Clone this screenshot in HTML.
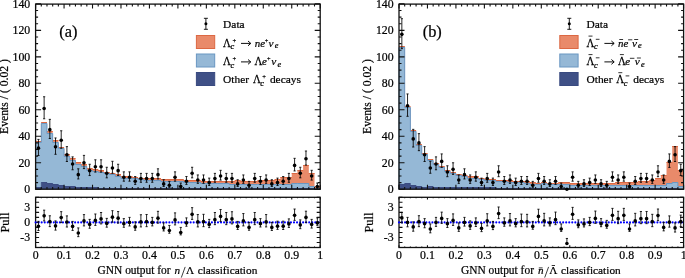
<!DOCTYPE html>
<html><head><meta charset="utf-8"><style>
html,body{margin:0;padding:0;background:#fff;overflow:hidden;}
svg{display:block;will-change:transform;}
text{font-family:"Liberation Serif",serif;fill:#000;stroke:#000;stroke-width:0.22px;}
</style></head><body>
<svg width="685" height="278" viewBox="0 0 685 278">
<polygon points="35.6,189.2 35.6,141 41.29,141 41.29,122 46.98,122 46.98,131 52.68,131 52.68,140 58.37,140 58.37,147 64.06,147 64.06,154 69.75,154 69.75,158 75.44,158 75.44,162 81.14,162 81.14,164 86.83,164 86.83,168 92.52,168 92.52,169 98.21,169 98.21,170 103.9,170 103.9,172 109.6,172 109.6,173 115.29,173 115.29,174 120.98,174 120.98,176 126.67,176 126.67,176 132.36,176 132.36,177 138.06,177 138.06,178 143.75,178 143.75,178 149.44,178 149.44,178 155.13,178 155.13,178 160.82,178 160.82,179 166.52,179 166.52,179 172.21,179 172.21,179 177.9,179 177.9,179 183.59,179 183.59,180 189.28,180 189.28,180 194.98,180 194.98,180 200.67,180 200.67,181 206.36,181 206.36,181 212.05,181 212.05,181 217.74,181 217.74,181 223.44,181 223.44,181 229.13,181 229.13,181 234.82,181 234.82,180 240.51,180 240.51,181 246.2,181 246.2,181 251.9,181 251.9,181 257.59,181 257.59,180 263.28,180 263.28,180 268.97,180 268.97,180 274.66,180 274.66,179 280.36,179 280.36,177 286.05,177 286.05,177 291.74,177 291.74,173 297.43,173 297.43,170 303.12,170 303.12,165 308.82,165 308.82,173 314.51,173 314.51,186 320.2,186 320.2,189.2" fill="#E98A6A"/>
<path d="M35.6,141.5H41.29M41.29,122.5H46.98M46.98,131.5H52.68M52.68,140.5H58.37M58.37,147.5H64.06M64.06,154.5H69.75M69.75,158.5H75.44M75.44,162.5H81.14M81.14,164.5H86.83M86.83,168.5H92.52M92.52,169.5H98.21M98.21,170.5H103.9M103.9,172.5H109.6M109.6,173.5H115.29M115.29,174.5H120.98M120.98,176.5H126.67M126.67,176.5H132.36M132.36,177.5H138.06M138.06,178.5H143.75M143.75,178.5H149.44M149.44,178.5H155.13M155.13,178.5H160.82M160.82,179.5H166.52M166.52,179.5H172.21M172.21,179.5H177.9M177.9,179.5H183.59M183.59,180.5H189.28M189.28,180.5H194.98M194.98,180.5H200.67M200.67,181.5H206.36M206.36,181.5H212.05M212.05,181.5H217.74M217.74,181.5H223.44M223.44,181.5H229.13M229.13,181.5H234.82M234.82,180.5H240.51M240.51,181.5H246.2M246.2,181.5H251.9M251.9,181.5H257.59M257.59,180.5H263.28M263.28,180.5H268.97M268.97,180.5H274.66M274.66,179.5H280.36M280.36,177.5H286.05M286.05,177.5H291.74M291.74,173.5H297.43M297.43,170.5H303.12M303.12,165.5H308.82M308.82,173.5H314.51M314.51,186.5H320.2" fill="none" stroke="#DC6843" stroke-width="1"/>
<polygon points="35.6,189.2 35.6,142 41.29,142 41.29,123 46.98,123 46.98,133 52.68,133 52.68,142 58.37,142 58.37,148 64.06,148 64.06,156 69.75,156 69.75,160 75.44,160 75.44,164 81.14,164 81.14,166 86.83,166 86.83,170 92.52,170 92.52,171 98.21,171 98.21,172 103.9,172 103.9,173 109.6,173 109.6,174 115.29,174 115.29,176 120.98,176 120.98,178 126.67,178 126.67,178 132.36,178 132.36,178 138.06,178 138.06,179 143.75,179 143.75,180 149.44,180 149.44,180 155.13,180 155.13,180 160.82,180 160.82,181 166.52,181 166.52,181 172.21,181 172.21,181 177.9,181 177.9,181 183.59,181 183.59,182 189.28,182 189.28,182 194.98,182 194.98,182 200.67,182 200.67,183 206.36,183 206.36,183 212.05,183 212.05,183 217.74,183 217.74,183 223.44,183 223.44,183 229.13,183 229.13,184 234.82,184 234.82,184 240.51,184 240.51,184 246.2,184 246.2,184 251.9,184 251.9,184 257.59,184 257.59,184 263.28,184 263.28,184 268.97,184 268.97,184 274.66,184 274.66,184 280.36,184 280.36,184 286.05,184 286.05,184 291.74,184 291.74,183 297.43,183 297.43,183 303.12,183 303.12,183 308.82,183 308.82,186 314.51,186 314.51,188 320.2,188 320.2,189.2" fill="#95B8D6"/>
<path d="M35.6,189.2 L35.6,142.5 L41.29,142.5 L41.29,123.5 L46.98,123.5 L46.98,133.5 L52.68,133.5 L52.68,142.5 L58.37,142.5 L58.37,148.5 L64.06,148.5 L64.06,156.5 L69.75,156.5 L69.75,160.5 L75.44,160.5 L75.44,164.5 L81.14,164.5 L81.14,166.5 L86.83,166.5 L86.83,170.5 L92.52,170.5 L92.52,171.5 L98.21,171.5 L98.21,172.5 L103.9,172.5 L103.9,173.5 L109.6,173.5 L109.6,174.5 L115.29,174.5 L115.29,176.5 L120.98,176.5 L120.98,178.5 L126.67,178.5 L126.67,178.5 L132.36,178.5 L132.36,178.5 L138.06,178.5 L138.06,179.5 L143.75,179.5 L143.75,180.5 L149.44,180.5 L149.44,180.5 L155.13,180.5 L155.13,180.5 L160.82,180.5 L160.82,181.5 L166.52,181.5 L166.52,181.5 L172.21,181.5 L172.21,181.5 L177.9,181.5 L177.9,181.5 L183.59,181.5 L183.59,182.5 L189.28,182.5 L189.28,182.5 L194.98,182.5 L194.98,182.5 L200.67,182.5 L200.67,183.5 L206.36,183.5 L206.36,183.5 L212.05,183.5 L212.05,183.5 L217.74,183.5 L217.74,183.5 L223.44,183.5 L223.44,183.5 L229.13,183.5 L229.13,184.5 L234.82,184.5 L234.82,184.5 L240.51,184.5 L240.51,184.5 L246.2,184.5 L246.2,184.5 L251.9,184.5 L251.9,184.5 L257.59,184.5 L257.59,184.5 L263.28,184.5 L263.28,184.5 L268.97,184.5 L268.97,184.5 L274.66,184.5 L274.66,184.5 L280.36,184.5 L280.36,184.5 L286.05,184.5 L286.05,184.5 L291.74,184.5 L291.74,183.5 L297.43,183.5 L297.43,183.5 L303.12,183.5 L303.12,183.5 L308.82,183.5 L308.82,186.5 L314.51,186.5 L314.51,188.5 L320.2,188.5 L320.2,189.2" fill="none" stroke="#6A97C2" stroke-width="1"/>
<polygon points="35.6,189.2 35.6,187 41.29,187 41.29,182 46.98,182 46.98,183 52.68,183 52.68,184 58.37,184 58.37,185 64.06,185 64.06,186 69.75,186 69.75,186 75.44,186 75.44,187 81.14,187 81.14,187 86.83,187 86.83,187 92.52,187 92.52,187 98.21,187 98.21,188 103.9,188 103.9,188 109.6,188 109.6,188 115.29,188 115.29,188 120.98,188 120.98,188 126.67,188 126.67,188 132.36,188 132.36,188 138.06,188 138.06,188 143.75,188 143.75,188 149.44,188 149.44,188 155.13,188 155.13,188 160.82,188 160.82,188 166.52,188 166.52,188 172.21,188 172.21,188 177.9,188 177.9,188 183.59,188 183.59,188 189.28,188 189.28,188 194.98,188 194.98,188 200.67,188 200.67,188 206.36,188 206.36,188 212.05,188 212.05,188 217.74,188 217.74,188 223.44,188 223.44,188 229.13,188 229.13,188 234.82,188 234.82,188 240.51,188 240.51,188 246.2,188 246.2,188 251.9,188 251.9,188 257.59,188 257.59,188 263.28,188 263.28,188 268.97,188 268.97,188 274.66,188 274.66,188 280.36,188 280.36,188 286.05,188 286.05,188 291.74,188 291.74,188 297.43,188 297.43,188 303.12,188 303.12,188 308.82,188 308.82,188 314.51,188 314.51,189 320.2,189 320.2,189.2" fill="#3F5086"/>
<path d="M35.6,189.2 L35.6,187.5 L41.29,187.5 L41.29,182.5 L46.98,182.5 L46.98,183.5 L52.68,183.5 L52.68,184.5 L58.37,184.5 L58.37,185.5 L64.06,185.5 L64.06,186.5 L69.75,186.5 L69.75,186.5 L75.44,186.5 L75.44,187.5 L81.14,187.5 L81.14,187.5 L86.83,187.5 L86.83,187.5 L92.52,187.5 L92.52,187.5 L98.21,187.5 L98.21,188.5 L103.9,188.5 L103.9,188.5 L109.6,188.5 L109.6,188.5 L115.29,188.5 L115.29,188.5 L120.98,188.5 L120.98,188.5 L126.67,188.5 L126.67,188.5 L132.36,188.5 L132.36,188.5 L138.06,188.5 L138.06,188.5 L143.75,188.5 L143.75,188.5 L149.44,188.5 L149.44,188.5 L155.13,188.5 L155.13,188.5 L160.82,188.5 L160.82,188.5 L166.52,188.5 L166.52,188.5 L172.21,188.5 L172.21,188.5 L177.9,188.5 L177.9,188.5 L183.59,188.5 L183.59,188.5 L189.28,188.5 L189.28,188.5 L194.98,188.5 L194.98,188.5 L200.67,188.5 L200.67,188.5 L206.36,188.5 L206.36,188.5 L212.05,188.5 L212.05,188.5 L217.74,188.5 L217.74,188.5 L223.44,188.5 L223.44,188.5 L229.13,188.5 L229.13,188.5 L234.82,188.5 L234.82,188.5 L240.51,188.5 L240.51,188.5 L246.2,188.5 L246.2,188.5 L251.9,188.5 L251.9,188.5 L257.59,188.5 L257.59,188.5 L263.28,188.5 L263.28,188.5 L268.97,188.5 L268.97,188.5 L274.66,188.5 L274.66,188.5 L280.36,188.5 L280.36,188.5 L286.05,188.5 L286.05,188.5 L291.74,188.5 L291.74,188.5 L297.43,188.5 L297.43,188.5 L303.12,188.5 L303.12,188.5 L308.82,188.5 L308.82,188.5 L314.51,188.5 L314.51,189.5 L320.2,189.5 L320.2,189.2" fill="none" stroke="#394A80" stroke-width="0.6"/>
<rect x="35.6" y="4.1" width="284.6" height="185.1" fill="none" stroke="#111" stroke-width="1.3"/>
<rect x="35.6" y="197.3" width="284.6" height="50.2" fill="none" stroke="#111" stroke-width="1.3"/>
<path d="M35.6,4.1v4.5M35.6,189.2v-4.5M35.6,197.3v2.2M35.6,247.5v-2.2M41.29,4.1v2.3M41.29,189.2v-2.3M41.29,197.3v1M41.29,247.5v-1M46.98,4.1v2.3M46.98,189.2v-2.3M46.98,197.3v1M46.98,247.5v-1M52.68,4.1v2.3M52.68,189.2v-2.3M52.68,197.3v1M52.68,247.5v-1M58.37,4.1v2.3M58.37,189.2v-2.3M58.37,197.3v1M58.37,247.5v-1M64.06,4.1v4.5M64.06,189.2v-4.5M64.06,197.3v2.2M64.06,247.5v-2.2M69.75,4.1v2.3M69.75,189.2v-2.3M69.75,197.3v1M69.75,247.5v-1M75.44,4.1v2.3M75.44,189.2v-2.3M75.44,197.3v1M75.44,247.5v-1M81.14,4.1v2.3M81.14,189.2v-2.3M81.14,197.3v1M81.14,247.5v-1M86.83,4.1v2.3M86.83,189.2v-2.3M86.83,197.3v1M86.83,247.5v-1M92.52,4.1v4.5M92.52,189.2v-4.5M92.52,197.3v2.2M92.52,247.5v-2.2M98.21,4.1v2.3M98.21,189.2v-2.3M98.21,197.3v1M98.21,247.5v-1M103.9,4.1v2.3M103.9,189.2v-2.3M103.9,197.3v1M103.9,247.5v-1M109.6,4.1v2.3M109.6,189.2v-2.3M109.6,197.3v1M109.6,247.5v-1M115.29,4.1v2.3M115.29,189.2v-2.3M115.29,197.3v1M115.29,247.5v-1M120.98,4.1v4.5M120.98,189.2v-4.5M120.98,197.3v2.2M120.98,247.5v-2.2M126.67,4.1v2.3M126.67,189.2v-2.3M126.67,197.3v1M126.67,247.5v-1M132.36,4.1v2.3M132.36,189.2v-2.3M132.36,197.3v1M132.36,247.5v-1M138.06,4.1v2.3M138.06,189.2v-2.3M138.06,197.3v1M138.06,247.5v-1M143.75,4.1v2.3M143.75,189.2v-2.3M143.75,197.3v1M143.75,247.5v-1M149.44,4.1v4.5M149.44,189.2v-4.5M149.44,197.3v2.2M149.44,247.5v-2.2M155.13,4.1v2.3M155.13,189.2v-2.3M155.13,197.3v1M155.13,247.5v-1M160.82,4.1v2.3M160.82,189.2v-2.3M160.82,197.3v1M160.82,247.5v-1M166.52,4.1v2.3M166.52,189.2v-2.3M166.52,197.3v1M166.52,247.5v-1M172.21,4.1v2.3M172.21,189.2v-2.3M172.21,197.3v1M172.21,247.5v-1M177.9,4.1v4.5M177.9,189.2v-4.5M177.9,197.3v2.2M177.9,247.5v-2.2M183.59,4.1v2.3M183.59,189.2v-2.3M183.59,197.3v1M183.59,247.5v-1M189.28,4.1v2.3M189.28,189.2v-2.3M189.28,197.3v1M189.28,247.5v-1M194.98,4.1v2.3M194.98,189.2v-2.3M194.98,197.3v1M194.98,247.5v-1M200.67,4.1v2.3M200.67,189.2v-2.3M200.67,197.3v1M200.67,247.5v-1M206.36,4.1v4.5M206.36,189.2v-4.5M206.36,197.3v2.2M206.36,247.5v-2.2M212.05,4.1v2.3M212.05,189.2v-2.3M212.05,197.3v1M212.05,247.5v-1M217.74,4.1v2.3M217.74,189.2v-2.3M217.74,197.3v1M217.74,247.5v-1M223.44,4.1v2.3M223.44,189.2v-2.3M223.44,197.3v1M223.44,247.5v-1M229.13,4.1v2.3M229.13,189.2v-2.3M229.13,197.3v1M229.13,247.5v-1M234.82,4.1v4.5M234.82,189.2v-4.5M234.82,197.3v2.2M234.82,247.5v-2.2M240.51,4.1v2.3M240.51,189.2v-2.3M240.51,197.3v1M240.51,247.5v-1M246.2,4.1v2.3M246.2,189.2v-2.3M246.2,197.3v1M246.2,247.5v-1M251.9,4.1v2.3M251.9,189.2v-2.3M251.9,197.3v1M251.9,247.5v-1M257.59,4.1v2.3M257.59,189.2v-2.3M257.59,197.3v1M257.59,247.5v-1M263.28,4.1v4.5M263.28,189.2v-4.5M263.28,197.3v2.2M263.28,247.5v-2.2M268.97,4.1v2.3M268.97,189.2v-2.3M268.97,197.3v1M268.97,247.5v-1M274.66,4.1v2.3M274.66,189.2v-2.3M274.66,197.3v1M274.66,247.5v-1M280.36,4.1v2.3M280.36,189.2v-2.3M280.36,197.3v1M280.36,247.5v-1M286.05,4.1v2.3M286.05,189.2v-2.3M286.05,197.3v1M286.05,247.5v-1M291.74,4.1v4.5M291.74,189.2v-4.5M291.74,197.3v2.2M291.74,247.5v-2.2M297.43,4.1v2.3M297.43,189.2v-2.3M297.43,197.3v1M297.43,247.5v-1M303.12,4.1v2.3M303.12,189.2v-2.3M303.12,197.3v1M303.12,247.5v-1M308.82,4.1v2.3M308.82,189.2v-2.3M308.82,197.3v1M308.82,247.5v-1M314.51,4.1v2.3M314.51,189.2v-2.3M314.51,197.3v1M314.51,247.5v-1M320.2,4.1v4.5M320.2,189.2v-4.5M320.2,197.3v2.2M320.2,247.5v-2.2M35.6,189.2h5.5M320.2,189.2h-5.5M35.6,182.58h2.5M320.2,182.58h-2.5M35.6,175.96h2.5M320.2,175.96h-2.5M35.6,169.35h2.5M320.2,169.35h-2.5M35.6,162.73h5.5M320.2,162.73h-5.5M35.6,156.11h2.5M320.2,156.11h-2.5M35.6,149.5h2.5M320.2,149.5h-2.5M35.6,142.88h2.5M320.2,142.88h-2.5M35.6,136.26h5.5M320.2,136.26h-5.5M35.6,129.64h2.5M320.2,129.64h-2.5M35.6,123.02h2.5M320.2,123.02h-2.5M35.6,116.41h2.5M320.2,116.41h-2.5M35.6,109.79h5.5M320.2,109.79h-5.5M35.6,103.17h2.5M320.2,103.17h-2.5M35.6,96.55h2.5M320.2,96.55h-2.5M35.6,89.94h2.5M320.2,89.94h-2.5M35.6,83.32h5.5M320.2,83.32h-5.5M35.6,76.7h2.5M320.2,76.7h-2.5M35.6,70.08h2.5M320.2,70.08h-2.5M35.6,63.47h2.5M320.2,63.47h-2.5M35.6,56.85h5.5M320.2,56.85h-5.5M35.6,50.23h2.5M320.2,50.23h-2.5M35.6,43.62h2.5M320.2,43.62h-2.5M35.6,37h2.5M320.2,37h-2.5M35.6,30.38h5.5M320.2,30.38h-5.5M35.6,23.76h2.5M320.2,23.76h-2.5M35.6,17.15h2.5M320.2,17.15h-2.5M35.6,10.53h2.5M320.2,10.53h-2.5M35.6,3.91h5.5M320.2,3.91h-5.5M35.6,247.5h3.5M320.2,247.5h-3.5M35.6,242.48h3.5M320.2,242.48h-3.5M35.6,237.46h3.5M320.2,237.46h-3.5M35.6,232.44h3.5M320.2,232.44h-3.5M35.6,227.42h3.5M320.2,227.42h-3.5M35.6,222.4h3.5M320.2,222.4h-3.5M35.6,217.38h3.5M320.2,217.38h-3.5M35.6,212.36h3.5M320.2,212.36h-3.5M35.6,207.34h3.5M320.2,207.34h-3.5M35.6,202.32h3.5M320.2,202.32h-3.5M35.6,197.3h3.5M320.2,197.3h-3.5" stroke="#111" stroke-width="1.1" fill="none"/>
<circle cx="38.45" cy="148.17" r="1.8"/>
<circle cx="44.14" cy="108.47" r="1.8"/>
<circle cx="49.83" cy="129.64" r="1.8"/>
<circle cx="55.52" cy="146.85" r="1.8"/>
<circle cx="61.21" cy="140.23" r="1.8"/>
<circle cx="66.91" cy="154.79" r="1.8"/>
<circle cx="72.6" cy="164.05" r="1.8"/>
<circle cx="78.29" cy="174.64" r="1.8"/>
<circle cx="83.98" cy="162.73" r="1.8"/>
<circle cx="89.67" cy="170.67" r="1.8"/>
<circle cx="95.37" cy="166.7" r="1.8"/>
<circle cx="101.06" cy="166.7" r="1.8"/>
<circle cx="106.75" cy="173.32" r="1.8"/>
<circle cx="112.44" cy="168.02" r="1.8"/>
<circle cx="118.13" cy="170.67" r="1.8"/>
<circle cx="123.83" cy="177.29" r="1.8"/>
<circle cx="129.52" cy="177.29" r="1.8"/>
<circle cx="135.21" cy="181.26" r="1.8"/>
<circle cx="140.9" cy="178.61" r="1.8"/>
<circle cx="146.59" cy="178.61" r="1.8"/>
<circle cx="152.29" cy="178.61" r="1.8"/>
<circle cx="157.98" cy="174.64" r="1.8"/>
<circle cx="163.67" cy="183.91" r="1.8"/>
<circle cx="169.36" cy="185.23" r="1.8"/>
<circle cx="175.05" cy="177.29" r="1.8"/>
<circle cx="180.75" cy="186.55" r="1.8"/>
<circle cx="186.44" cy="181.26" r="1.8"/>
<circle cx="192.13" cy="173.32" r="1.8"/>
<circle cx="197.82" cy="179.94" r="1.8"/>
<circle cx="203.51" cy="179.94" r="1.8"/>
<circle cx="209.21" cy="182.58" r="1.8"/>
<circle cx="214.9" cy="178.61" r="1.8"/>
<circle cx="220.59" cy="175.96" r="1.8"/>
<circle cx="226.28" cy="178.61" r="1.8"/>
<circle cx="231.97" cy="178.61" r="1.8"/>
<circle cx="237.67" cy="183.91" r="1.8"/>
<circle cx="243.36" cy="179.94" r="1.8"/>
<circle cx="249.05" cy="185.23" r="1.8"/>
<circle cx="254.74" cy="178.61" r="1.8"/>
<circle cx="260.43" cy="181.26" r="1.8"/>
<circle cx="266.13" cy="179.94" r="1.8"/>
<circle cx="271.82" cy="183.91" r="1.8"/>
<circle cx="277.51" cy="182.58" r="1.8"/>
<circle cx="283.2" cy="181.26" r="1.8"/>
<circle cx="288.89" cy="178.61" r="1.8"/>
<circle cx="294.59" cy="165.38" r="1.8"/>
<circle cx="300.28" cy="173.32" r="1.8"/>
<circle cx="305.97" cy="158.76" r="1.8"/>
<circle cx="311.66" cy="175.96" r="1.8"/>
<circle cx="317.35" cy="186.55" r="1.8"/>
<path d="M38.45,139.4V155.5M37.35,139.4h2.2M37.35,155.5h2.2M44.14,96.75V118.77M43.04,96.75h2.2M43.04,118.77h2.2M49.83,119.37V138.49M48.73,119.37h2.2M48.73,138.49h2.2M55.52,137.96V154.3M54.42,137.96h2.2M54.42,154.3h2.2M61.21,130.78V148.24M60.11,130.78h2.2M60.11,148.24h2.2M66.91,146.63V161.49M65.81,146.63h2.2M65.81,161.49h2.2M72.6,156.86V169.77M71.5,156.86h2.2M71.5,169.77h2.2M78.29,168.8V178.96M77.19,168.8h2.2M77.19,178.96h2.2M83.98,155.39V168.6M82.88,155.39h2.2M82.88,168.6h2.2M89.67,164.28V175.56M88.57,164.28h2.2M88.57,175.56h2.2M95.37,159.81V172.1M94.27,159.81h2.2M94.27,172.1h2.2M101.06,159.81V172.1M99.96,159.81h2.2M99.96,172.1h2.2M106.75,167.28V177.84M105.65,167.28h2.2M105.65,177.84h2.2M112.44,161.3V173.26M111.34,161.3h2.2M111.34,173.26h2.2M118.13,164.28V175.56M117.03,164.28h2.2M117.03,175.56h2.2M123.83,171.85V181.18M122.73,171.85h2.2M122.73,181.18h2.2M129.52,171.85V181.18M128.42,171.85h2.2M128.42,181.18h2.2M135.21,176.52V184.41M134.11,176.52h2.2M134.11,184.41h2.2M140.9,173.39V182.28M139.8,173.39h2.2M139.8,182.28h2.2M146.59,173.39V182.28M145.49,173.39h2.2M145.49,182.28h2.2M152.29,173.39V182.28M151.19,173.39h2.2M151.19,182.28h2.2M157.98,168.8V178.96M156.88,168.8h2.2M156.88,178.96h2.2M163.67,179.72V186.44M162.57,179.72h2.2M162.57,186.44h2.2M169.36,181.37V187.39M168.26,181.37h2.2M168.26,187.39h2.2M175.05,171.85V181.18M173.95,171.85h2.2M173.95,181.18h2.2M180.75,183.06V188.26M179.65,183.06h2.2M179.65,188.26h2.2M186.44,176.52V184.41M185.34,176.52h2.2M185.34,184.41h2.2M192.13,167.28V177.84M191.03,167.28h2.2M191.03,177.84h2.2M197.82,174.95V183.35M196.72,174.95h2.2M196.72,183.35h2.2M203.51,174.95V183.35M202.41,174.95h2.2M202.41,183.35h2.2M209.21,178.11V185.44M208.11,178.11h2.2M208.11,185.44h2.2M214.9,173.39V182.28M213.8,173.39h2.2M213.8,182.28h2.2M220.59,170.32V180.08M219.49,170.32h2.2M219.49,180.08h2.2M226.28,173.39V182.28M225.18,173.39h2.2M225.18,182.28h2.2M231.97,173.39V182.28M230.87,173.39h2.2M230.87,182.28h2.2M237.67,179.72V186.44M236.57,179.72h2.2M236.57,186.44h2.2M243.36,174.95V183.35M242.26,174.95h2.2M242.26,183.35h2.2M249.05,181.37V187.39M247.95,181.37h2.2M247.95,187.39h2.2M254.74,173.39V182.28M253.64,173.39h2.2M253.64,182.28h2.2M260.43,176.52V184.41M259.33,176.52h2.2M259.33,184.41h2.2M266.13,174.95V183.35M265.03,174.95h2.2M265.03,183.35h2.2M271.82,179.72V186.44M270.72,179.72h2.2M270.72,186.44h2.2M277.51,178.11V185.44M276.41,178.11h2.2M276.41,185.44h2.2M283.2,176.52V184.41M282.1,176.52h2.2M282.1,184.41h2.2M288.89,173.39V182.28M287.79,173.39h2.2M287.79,182.28h2.2M294.59,158.33V170.94M293.49,158.33h2.2M293.49,170.94h2.2M300.28,167.28V177.84M299.18,167.28h2.2M299.18,177.84h2.2M305.97,151V165.06M304.87,151h2.2M304.87,165.06h2.2M311.66,170.32V180.08M310.56,170.32h2.2M310.56,180.08h2.2M317.35,183.06V188.26M316.25,183.06h2.2M316.25,188.26h2.2" stroke="#000" stroke-width="0.85" fill="none"/>
<line x1="35.6" y1="222.4" x2="320.2" y2="222.4" stroke="#0000FF" stroke-width="2.1" stroke-dasharray="0 3.04" stroke-linecap="round"/>
<circle cx="38.45" cy="226.32" r="1.8"/>
<circle cx="44.14" cy="215.87" r="1.8"/>
<circle cx="49.83" cy="221.6" r="1.8"/>
<circle cx="55.52" cy="225.91" r="1.8"/>
<circle cx="61.21" cy="217.58" r="1.8"/>
<circle cx="66.91" cy="222" r="1.8"/>
<circle cx="72.6" cy="226.42" r="1.8"/>
<circle cx="78.29" cy="232.94" r="1.8"/>
<circle cx="83.98" cy="220.89" r="1.8"/>
<circle cx="89.67" cy="224.41" r="1.8"/>
<circle cx="95.37" cy="220.39" r="1.8"/>
<circle cx="101.06" cy="218.89" r="1.8"/>
<circle cx="106.75" cy="223.4" r="1.8"/>
<circle cx="112.44" cy="217.13" r="1.8"/>
<circle cx="118.13" cy="218.13" r="1.8"/>
<circle cx="123.83" cy="223.66" r="1.8"/>
<circle cx="129.52" cy="222.4" r="1.8"/>
<circle cx="135.21" cy="226.92" r="1.8"/>
<circle cx="140.9" cy="221.9" r="1.8"/>
<circle cx="146.59" cy="221.65" r="1.8"/>
<circle cx="152.29" cy="222.4" r="1.8"/>
<circle cx="157.98" cy="218.13" r="1.8"/>
<circle cx="163.67" cy="227.92" r="1.8"/>
<circle cx="169.36" cy="230.43" r="1.8"/>
<circle cx="175.05" cy="219.89" r="1.8"/>
<circle cx="180.75" cy="232.44" r="1.8"/>
<circle cx="186.44" cy="222.9" r="1.8"/>
<circle cx="192.13" cy="214.37" r="1.8"/>
<circle cx="197.82" cy="221.9" r="1.8"/>
<circle cx="203.51" cy="221.65" r="1.8"/>
<circle cx="209.21" cy="224.41" r="1.8"/>
<circle cx="214.9" cy="219.64" r="1.8"/>
<circle cx="220.59" cy="216.38" r="1.8"/>
<circle cx="226.28" cy="219.64" r="1.8"/>
<circle cx="231.97" cy="218.89" r="1.8"/>
<circle cx="237.67" cy="226.42" r="1.8"/>
<circle cx="243.36" cy="220.89" r="1.8"/>
<circle cx="249.05" cy="227.42" r="1.8"/>
<circle cx="254.74" cy="219.64" r="1.8"/>
<circle cx="260.43" cy="223.66" r="1.8"/>
<circle cx="266.13" cy="221.9" r="1.8"/>
<circle cx="271.82" cy="227.42" r="1.8"/>
<circle cx="277.51" cy="226.16" r="1.8"/>
<circle cx="283.2" cy="226.16" r="1.8"/>
<circle cx="288.89" cy="223.91" r="1.8"/>
<circle cx="294.59" cy="215.37" r="1.8"/>
<circle cx="300.28" cy="224.91" r="1.8"/>
<circle cx="305.97" cy="217.38" r="1.8"/>
<circle cx="311.66" cy="224.41" r="1.8"/>
<circle cx="317.35" cy="222.9" r="1.8"/>
<path d="M38.45,221.3V230.51M37.35,221.3h2.2M37.35,230.51h2.2M44.14,210.17V220.89M43.04,210.17h2.2M43.04,220.89h2.2M49.83,215.77V226.62M48.73,215.77h2.2M48.73,226.62h2.2M55.52,220.89V230.12M54.42,220.89h2.2M54.42,230.12h2.2M61.21,211.66V222.6M60.11,211.66h2.2M60.11,222.6h2.2M66.91,215.89V227.02M65.81,215.89h2.2M65.81,227.02h2.2M72.6,221.4V230.41M71.5,221.4h2.2M71.5,230.41h2.2M78.29,227.92V236.65M77.19,227.92h2.2M77.19,236.65h2.2M83.98,214.62V225.91M82.88,214.62h2.2M82.88,225.91h2.2M89.67,219.39V228.25M88.57,219.39h2.2M88.57,228.25h2.2M95.37,213.99V225.41M94.27,213.99h2.2M94.27,225.41h2.2M101.06,212.49V223.91M99.96,212.49h2.2M99.96,223.91h2.2M106.75,218.38V227.16M105.65,218.38h2.2M105.65,227.16h2.2M112.44,210.68V222.15M111.34,210.68h2.2M111.34,222.15h2.2M118.13,211.57V223.15M117.03,211.57h2.2M117.03,223.15h2.2M123.83,218.64V227.25M122.73,218.64h2.2M122.73,227.25h2.2M129.52,217.38V225.99M128.42,217.38h2.2M128.42,225.99h2.2M135.21,221.9V230.25M134.11,221.9h2.2M134.11,230.25h2.2M140.9,214.74V226.92M139.8,214.74h2.2M139.8,226.92h2.2M146.59,214.49V226.67M145.49,214.49h2.2M145.49,226.67h2.2M152.29,217.38V225.92M151.19,217.38h2.2M151.19,225.92h2.2M157.98,211.34V223.15M156.88,211.34h2.2M156.88,223.15h2.2M163.67,222.9V230.96M162.57,222.9h2.2M162.57,230.96h2.2M169.36,225.41V233.24M168.26,225.41h2.2M168.26,233.24h2.2M175.05,212.88V224.91M173.95,212.88h2.2M173.95,224.91h2.2M180.75,227.42V234.9M179.65,227.42h2.2M179.65,234.9h2.2M186.44,217.88V226.24M185.34,217.88h2.2M185.34,226.24h2.2M192.13,207.67V219.39M191.03,207.67h2.2M191.03,219.39h2.2M197.82,214.57V226.92M196.72,214.57h2.2M196.72,226.92h2.2M203.51,214.32V226.67M202.41,214.32h2.2M202.41,226.67h2.2M209.21,219.39V227.61M208.11,219.39h2.2M208.11,227.61h2.2M214.9,212.49V224.66M213.8,212.49h2.2M213.8,224.66h2.2M220.59,209.49V221.4M219.49,209.49h2.2M219.49,221.4h2.2M226.28,212.49V224.66M225.18,212.49h2.2M225.18,224.66h2.2M231.97,211.73V223.91M230.87,211.73h2.2M230.87,223.91h2.2M237.67,221.4V229.45M236.57,221.4h2.2M236.57,229.45h2.2M243.36,213.56V225.91M242.26,213.56h2.2M242.26,225.91h2.2M249.05,222.4V230.23M247.95,222.4h2.2M247.95,230.23h2.2M254.74,212.49V224.66M253.64,212.49h2.2M253.64,224.66h2.2M260.43,218.64V226.99M259.33,218.64h2.2M259.33,226.99h2.2M266.13,214.57V226.92M265.03,214.57h2.2M265.03,226.92h2.2M271.82,222.4V230.46M270.72,222.4h2.2M270.72,230.46h2.2M277.51,221.15V229.37M276.41,221.15h2.2M276.41,229.37h2.2M283.2,221.15V229.5M282.1,221.15h2.2M282.1,229.5h2.2M288.89,218.89V227.43M287.79,218.89h2.2M287.79,227.43h2.2M294.59,209.02V220.39M293.49,209.02h2.2M293.49,220.39h2.2M300.28,219.89V228.67M299.18,219.89h2.2M299.18,228.67h2.2M305.97,211.2V222.4M304.87,211.2h2.2M304.87,222.4h2.2M311.66,219.39V228.07M310.56,219.39h2.2M310.56,228.07h2.2M317.35,217.88V225.36M316.25,217.88h2.2M316.25,225.36h2.2" stroke="#000" stroke-width="0.85" fill="none"/>
<g font-size="11.8"><text x="30.2" y="193.2" text-anchor="end">0</text><text x="30.2" y="166.73" text-anchor="end">20</text><text x="30.2" y="140.26" text-anchor="end">40</text><text x="30.2" y="113.79" text-anchor="end">60</text><text x="30.2" y="87.32" text-anchor="end">80</text><text x="30.2" y="60.85" text-anchor="end">100</text><text x="30.2" y="34.38" text-anchor="end">120</text><text x="30.2" y="7.91" text-anchor="end">140</text><text x="30.2" y="211.34" text-anchor="end">3</text><text x="30.2" y="226.4" text-anchor="end">0</text><text x="30.2" y="241.46" text-anchor="end">-3</text><text x="35.6" y="258.5" text-anchor="middle">0</text><text x="64.06" y="258.5" text-anchor="middle">0.1</text><text x="92.52" y="258.5" text-anchor="middle">0.2</text><text x="120.98" y="258.5" text-anchor="middle">0.3</text><text x="149.44" y="258.5" text-anchor="middle">0.4</text><text x="177.9" y="258.5" text-anchor="middle">0.5</text><text x="206.36" y="258.5" text-anchor="middle">0.6</text><text x="234.82" y="258.5" text-anchor="middle">0.7</text><text x="263.28" y="258.5" text-anchor="middle">0.8</text><text x="291.74" y="258.5" text-anchor="middle">0.9</text><text x="320.2" y="258.5" text-anchor="middle">1</text></g>
<text transform="translate(8,134.0) rotate(-90)" font-size="11.7">Events / ( 0.02 )</text>
<text transform="translate(9.4,232.5) rotate(-90)" font-size="12.3">Pull</text>
<text x="59.3" y="37.3" font-size="16.4">(a)</text>
<path d="M205.9,18.3V29.3M203.9,18.3h4M203.9,29.3h4" stroke="#000" stroke-width="0.9"/>
<circle cx="205.9" cy="23.8" r="1.5"/>
<rect x="196.4" y="35.5" width="18.3" height="13" fill="#E98A6A" stroke="#DC6843" stroke-width="1"/>
<rect x="196.4" y="54" width="18.3" height="13" fill="#95B8D6" stroke="#6A97C2" stroke-width="1"/>
<rect x="196.4" y="72.5" width="18.3" height="13" fill="#3F5086" stroke="#394A80" stroke-width="1"/>
<text x="223.1" y="28" font-size="11.4">Data</text>
<text transform="translate(223.1,46.7) scale(0.95,1.17)" font-size="11.4">&#923;</text>
<text x="232.4" y="42.5" font-size="6.5">+</text>
<text x="230.5" y="49.4" font-size="8.4" font-style="italic">c</text>
<path d="M241,43.4H250.6 M248,41 L250.8,43.4 L248,45.8" stroke="#000" stroke-width="0.95" fill="none"/>
<text x="254.7" y="46.7" font-size="10.9" font-style="italic">ne</text>
<text x="264.7" y="42.7" font-size="6.3">+</text>
<text x="268.6" y="46.7" font-size="11.4" font-style="italic">&#957;</text>
<text x="274.7" y="48.2" font-size="8.4" font-style="italic">e</text>
<text transform="translate(223.1,65.2) scale(0.95,1.17)" font-size="11.4">&#923;</text>
<text x="232.4" y="61" font-size="6.5">+</text>
<text x="230.5" y="67.9" font-size="8.4" font-style="italic">c</text>
<path d="M241,61.9H250.6 M248,59.5 L250.8,61.9 L248,64.3" stroke="#000" stroke-width="0.95" fill="none"/>
<text transform="translate(254.5,65.2) scale(0.95,1.17)" font-size="11.4">&#923;</text>
<text x="261.9" y="65.2" font-size="10.9" font-style="italic">e</text>
<text x="267" y="61.2" font-size="6.3">+</text>
<text x="271.3" y="65.2" font-size="11.4" font-style="italic">&#957;</text>
<text x="277.5" y="66.7" font-size="8.4" font-style="italic">e</text>
<text x="223.1" y="83.3" font-size="11.4">Other</text>
<text transform="translate(252.9,83.3) scale(0.95,1.17)" font-size="11.4">&#923;</text>
<text x="262.2" y="79.1" font-size="6.5">+</text>
<text x="260.3" y="86" font-size="8.4" font-style="italic">c</text>
<text x="269.9" y="83.3" font-size="11.4">decays</text>
<polygon points="399,189.2 399,46 404.69,46 404.69,106 410.38,106 410.38,130 416.08,130 416.08,144 421.77,144 421.77,153 427.46,153 427.46,159 433.15,159 433.15,163 438.84,163 438.84,166 444.54,166 444.54,170 450.23,170 450.23,172 455.92,172 455.92,174 461.61,174 461.61,175 467.3,175 467.3,176 473,176 473,176 478.69,176 478.69,178 484.38,178 484.38,179 490.07,179 490.07,179 495.76,179 495.76,180 501.46,180 501.46,180 507.15,180 507.15,180 512.84,180 512.84,181 518.53,181 518.53,181 524.22,181 524.22,181 529.92,181 529.92,182 535.61,182 535.61,183 541.3,183 541.3,182 546.99,182 546.99,183 552.68,183 552.68,183 558.38,183 558.38,182 564.07,182 564.07,182 569.76,182 569.76,183 575.45,183 575.45,183 581.14,183 581.14,183 586.84,183 586.84,183 592.53,183 592.53,183 598.22,183 598.22,183 603.91,183 603.91,183 609.6,183 609.6,183 615.3,183 615.3,182 620.99,182 620.99,182 626.68,182 626.68,182 632.37,182 632.37,182 638.06,182 638.06,181 643.76,181 643.76,181 649.45,181 649.45,180 655.14,180 655.14,178 660.83,178 660.83,175 666.52,175 666.52,162 672.22,162 672.22,146 677.91,146 677.91,170 683.6,170 683.6,189.2" fill="#E98A6A"/>
<path d="M399,46.5H404.69M404.69,106.5H410.38M410.38,130.5H416.08M416.08,144.5H421.77M421.77,153.5H427.46M427.46,159.5H433.15M433.15,163.5H438.84M438.84,166.5H444.54M444.54,170.5H450.23M450.23,172.5H455.92M455.92,174.5H461.61M461.61,175.5H467.3M467.3,176.5H473M473,176.5H478.69M478.69,178.5H484.38M484.38,179.5H490.07M490.07,179.5H495.76M495.76,180.5H501.46M501.46,180.5H507.15M507.15,180.5H512.84M512.84,181.5H518.53M518.53,181.5H524.22M524.22,181.5H529.92M529.92,182.5H535.61M535.61,183.5H541.3M541.3,182.5H546.99M546.99,183.5H552.68M552.68,183.5H558.38M558.38,182.5H564.07M564.07,182.5H569.76M569.76,183.5H575.45M575.45,183.5H581.14M581.14,183.5H586.84M586.84,183.5H592.53M592.53,183.5H598.22M598.22,183.5H603.91M603.91,183.5H609.6M609.6,183.5H615.3M615.3,182.5H620.99M620.99,182.5H626.68M626.68,182.5H632.37M632.37,182.5H638.06M638.06,181.5H643.76M643.76,181.5H649.45M649.45,180.5H655.14M655.14,178.5H660.83M660.83,175.5H666.52M666.52,162.5H672.22M672.22,146.5H677.91M677.91,170.5H683.6" fill="none" stroke="#DC6843" stroke-width="1"/>
<polygon points="399,189.2 399,47 404.69,47 404.69,107 410.38,107 410.38,131 416.08,131 416.08,145 421.77,145 421.77,154 427.46,154 427.46,160 433.15,160 433.15,164 438.84,164 438.84,167 444.54,167 444.54,171 450.23,171 450.23,173 455.92,173 455.92,175 461.61,175 461.61,176 467.3,176 467.3,178 473,178 473,178 478.69,178 478.69,179 484.38,179 484.38,180 490.07,180 490.07,180 495.76,180 495.76,181 501.46,181 501.46,181 507.15,181 507.15,182 512.84,182 512.84,182 518.53,182 518.53,182 524.22,182 524.22,183 529.92,183 529.92,184 535.61,184 535.61,184 541.3,184 541.3,183 546.99,183 546.99,184 552.68,184 552.68,184 558.38,184 558.38,184 564.07,184 564.07,184 569.76,184 569.76,185 575.45,185 575.45,185 581.14,185 581.14,185 586.84,185 586.84,185 592.53,185 592.53,185 598.22,185 598.22,185 603.91,185 603.91,185 609.6,185 609.6,185 615.3,185 615.3,185 620.99,185 620.99,185 626.68,185 626.68,185 632.37,185 632.37,185 638.06,185 638.06,185 643.76,185 643.76,185 649.45,185 649.45,185 655.14,185 655.14,185 660.83,185 660.83,185 666.52,185 666.52,183 672.22,183 672.22,182 677.91,182 677.91,186 683.6,186 683.6,189.2" fill="#95B8D6"/>
<path d="M399,189.2 L399,47.5 L404.69,47.5 L404.69,107.5 L410.38,107.5 L410.38,131.5 L416.08,131.5 L416.08,145.5 L421.77,145.5 L421.77,154.5 L427.46,154.5 L427.46,160.5 L433.15,160.5 L433.15,164.5 L438.84,164.5 L438.84,167.5 L444.54,167.5 L444.54,171.5 L450.23,171.5 L450.23,173.5 L455.92,173.5 L455.92,175.5 L461.61,175.5 L461.61,176.5 L467.3,176.5 L467.3,178.5 L473,178.5 L473,178.5 L478.69,178.5 L478.69,179.5 L484.38,179.5 L484.38,180.5 L490.07,180.5 L490.07,180.5 L495.76,180.5 L495.76,181.5 L501.46,181.5 L501.46,181.5 L507.15,181.5 L507.15,182.5 L512.84,182.5 L512.84,182.5 L518.53,182.5 L518.53,182.5 L524.22,182.5 L524.22,183.5 L529.92,183.5 L529.92,184.5 L535.61,184.5 L535.61,184.5 L541.3,184.5 L541.3,183.5 L546.99,183.5 L546.99,184.5 L552.68,184.5 L552.68,184.5 L558.38,184.5 L558.38,184.5 L564.07,184.5 L564.07,184.5 L569.76,184.5 L569.76,185.5 L575.45,185.5 L575.45,185.5 L581.14,185.5 L581.14,185.5 L586.84,185.5 L586.84,185.5 L592.53,185.5 L592.53,185.5 L598.22,185.5 L598.22,185.5 L603.91,185.5 L603.91,185.5 L609.6,185.5 L609.6,185.5 L615.3,185.5 L615.3,185.5 L620.99,185.5 L620.99,185.5 L626.68,185.5 L626.68,185.5 L632.37,185.5 L632.37,185.5 L638.06,185.5 L638.06,185.5 L643.76,185.5 L643.76,185.5 L649.45,185.5 L649.45,185.5 L655.14,185.5 L655.14,185.5 L660.83,185.5 L660.83,185.5 L666.52,185.5 L666.52,183.5 L672.22,183.5 L672.22,182.5 L677.91,182.5 L677.91,186.5 L683.6,186.5 L683.6,189.2" fill="none" stroke="#6A97C2" stroke-width="1"/>
<polygon points="399,189.2 399,184 404.69,184 404.69,183 410.38,183 410.38,185 416.08,185 416.08,186 421.77,186 421.77,187 427.46,187 427.46,186 433.15,186 433.15,187 438.84,187 438.84,187 444.54,187 444.54,187 450.23,187 450.23,187 455.92,187 455.92,187 461.61,187 461.61,187 467.3,187 467.3,187 473,187 473,187 478.69,187 478.69,187 484.38,187 484.38,187 490.07,187 490.07,187 495.76,187 495.76,188 501.46,188 501.46,188 507.15,188 507.15,188 512.84,188 512.84,188 518.53,188 518.53,188 524.22,188 524.22,188 529.92,188 529.92,188 535.61,188 535.61,188 541.3,188 541.3,188 546.99,188 546.99,188 552.68,188 552.68,188 558.38,188 558.38,188 564.07,188 564.07,188 569.76,188 569.76,188 575.45,188 575.45,188 581.14,188 581.14,188 586.84,188 586.84,188 592.53,188 592.53,188 598.22,188 598.22,188 603.91,188 603.91,188 609.6,188 609.6,188 615.3,188 615.3,188 620.99,188 620.99,188 626.68,188 626.68,188 632.37,188 632.37,188 638.06,188 638.06,188 643.76,188 643.76,188 649.45,188 649.45,188 655.14,188 655.14,188 660.83,188 660.83,188 666.52,188 666.52,188 672.22,188 672.22,188 677.91,188 677.91,189 683.6,189 683.6,189.2" fill="#3F5086"/>
<path d="M399,189.2 L399,184.5 L404.69,184.5 L404.69,183.5 L410.38,183.5 L410.38,185.5 L416.08,185.5 L416.08,186.5 L421.77,186.5 L421.77,187.5 L427.46,187.5 L427.46,186.5 L433.15,186.5 L433.15,187.5 L438.84,187.5 L438.84,187.5 L444.54,187.5 L444.54,187.5 L450.23,187.5 L450.23,187.5 L455.92,187.5 L455.92,187.5 L461.61,187.5 L461.61,187.5 L467.3,187.5 L467.3,187.5 L473,187.5 L473,187.5 L478.69,187.5 L478.69,187.5 L484.38,187.5 L484.38,187.5 L490.07,187.5 L490.07,187.5 L495.76,187.5 L495.76,188.5 L501.46,188.5 L501.46,188.5 L507.15,188.5 L507.15,188.5 L512.84,188.5 L512.84,188.5 L518.53,188.5 L518.53,188.5 L524.22,188.5 L524.22,188.5 L529.92,188.5 L529.92,188.5 L535.61,188.5 L535.61,188.5 L541.3,188.5 L541.3,188.5 L546.99,188.5 L546.99,188.5 L552.68,188.5 L552.68,188.5 L558.38,188.5 L558.38,188.5 L564.07,188.5 L564.07,188.5 L569.76,188.5 L569.76,188.5 L575.45,188.5 L575.45,188.5 L581.14,188.5 L581.14,188.5 L586.84,188.5 L586.84,188.5 L592.53,188.5 L592.53,188.5 L598.22,188.5 L598.22,188.5 L603.91,188.5 L603.91,188.5 L609.6,188.5 L609.6,188.5 L615.3,188.5 L615.3,188.5 L620.99,188.5 L620.99,188.5 L626.68,188.5 L626.68,188.5 L632.37,188.5 L632.37,188.5 L638.06,188.5 L638.06,188.5 L643.76,188.5 L643.76,188.5 L649.45,188.5 L649.45,188.5 L655.14,188.5 L655.14,188.5 L660.83,188.5 L660.83,188.5 L666.52,188.5 L666.52,188.5 L672.22,188.5 L672.22,188.5 L677.91,188.5 L677.91,189.5 L683.6,189.5 L683.6,189.2" fill="none" stroke="#394A80" stroke-width="0.6"/>
<rect x="399" y="4.1" width="284.6" height="185.1" fill="none" stroke="#111" stroke-width="1.3"/>
<rect x="399" y="197.3" width="284.6" height="50.2" fill="none" stroke="#111" stroke-width="1.3"/>
<path d="M399,4.1v4.5M399,189.2v-4.5M399,197.3v2.2M399,247.5v-2.2M404.69,4.1v2.3M404.69,189.2v-2.3M404.69,197.3v1M404.69,247.5v-1M410.38,4.1v2.3M410.38,189.2v-2.3M410.38,197.3v1M410.38,247.5v-1M416.08,4.1v2.3M416.08,189.2v-2.3M416.08,197.3v1M416.08,247.5v-1M421.77,4.1v2.3M421.77,189.2v-2.3M421.77,197.3v1M421.77,247.5v-1M427.46,4.1v4.5M427.46,189.2v-4.5M427.46,197.3v2.2M427.46,247.5v-2.2M433.15,4.1v2.3M433.15,189.2v-2.3M433.15,197.3v1M433.15,247.5v-1M438.84,4.1v2.3M438.84,189.2v-2.3M438.84,197.3v1M438.84,247.5v-1M444.54,4.1v2.3M444.54,189.2v-2.3M444.54,197.3v1M444.54,247.5v-1M450.23,4.1v2.3M450.23,189.2v-2.3M450.23,197.3v1M450.23,247.5v-1M455.92,4.1v4.5M455.92,189.2v-4.5M455.92,197.3v2.2M455.92,247.5v-2.2M461.61,4.1v2.3M461.61,189.2v-2.3M461.61,197.3v1M461.61,247.5v-1M467.3,4.1v2.3M467.3,189.2v-2.3M467.3,197.3v1M467.3,247.5v-1M473,4.1v2.3M473,189.2v-2.3M473,197.3v1M473,247.5v-1M478.69,4.1v2.3M478.69,189.2v-2.3M478.69,197.3v1M478.69,247.5v-1M484.38,4.1v4.5M484.38,189.2v-4.5M484.38,197.3v2.2M484.38,247.5v-2.2M490.07,4.1v2.3M490.07,189.2v-2.3M490.07,197.3v1M490.07,247.5v-1M495.76,4.1v2.3M495.76,189.2v-2.3M495.76,197.3v1M495.76,247.5v-1M501.46,4.1v2.3M501.46,189.2v-2.3M501.46,197.3v1M501.46,247.5v-1M507.15,4.1v2.3M507.15,189.2v-2.3M507.15,197.3v1M507.15,247.5v-1M512.84,4.1v4.5M512.84,189.2v-4.5M512.84,197.3v2.2M512.84,247.5v-2.2M518.53,4.1v2.3M518.53,189.2v-2.3M518.53,197.3v1M518.53,247.5v-1M524.22,4.1v2.3M524.22,189.2v-2.3M524.22,197.3v1M524.22,247.5v-1M529.92,4.1v2.3M529.92,189.2v-2.3M529.92,197.3v1M529.92,247.5v-1M535.61,4.1v2.3M535.61,189.2v-2.3M535.61,197.3v1M535.61,247.5v-1M541.3,4.1v4.5M541.3,189.2v-4.5M541.3,197.3v2.2M541.3,247.5v-2.2M546.99,4.1v2.3M546.99,189.2v-2.3M546.99,197.3v1M546.99,247.5v-1M552.68,4.1v2.3M552.68,189.2v-2.3M552.68,197.3v1M552.68,247.5v-1M558.38,4.1v2.3M558.38,189.2v-2.3M558.38,197.3v1M558.38,247.5v-1M564.07,4.1v2.3M564.07,189.2v-2.3M564.07,197.3v1M564.07,247.5v-1M569.76,4.1v4.5M569.76,189.2v-4.5M569.76,197.3v2.2M569.76,247.5v-2.2M575.45,4.1v2.3M575.45,189.2v-2.3M575.45,197.3v1M575.45,247.5v-1M581.14,4.1v2.3M581.14,189.2v-2.3M581.14,197.3v1M581.14,247.5v-1M586.84,4.1v2.3M586.84,189.2v-2.3M586.84,197.3v1M586.84,247.5v-1M592.53,4.1v2.3M592.53,189.2v-2.3M592.53,197.3v1M592.53,247.5v-1M598.22,4.1v4.5M598.22,189.2v-4.5M598.22,197.3v2.2M598.22,247.5v-2.2M603.91,4.1v2.3M603.91,189.2v-2.3M603.91,197.3v1M603.91,247.5v-1M609.6,4.1v2.3M609.6,189.2v-2.3M609.6,197.3v1M609.6,247.5v-1M615.3,4.1v2.3M615.3,189.2v-2.3M615.3,197.3v1M615.3,247.5v-1M620.99,4.1v2.3M620.99,189.2v-2.3M620.99,197.3v1M620.99,247.5v-1M626.68,4.1v4.5M626.68,189.2v-4.5M626.68,197.3v2.2M626.68,247.5v-2.2M632.37,4.1v2.3M632.37,189.2v-2.3M632.37,197.3v1M632.37,247.5v-1M638.06,4.1v2.3M638.06,189.2v-2.3M638.06,197.3v1M638.06,247.5v-1M643.76,4.1v2.3M643.76,189.2v-2.3M643.76,197.3v1M643.76,247.5v-1M649.45,4.1v2.3M649.45,189.2v-2.3M649.45,197.3v1M649.45,247.5v-1M655.14,4.1v4.5M655.14,189.2v-4.5M655.14,197.3v2.2M655.14,247.5v-2.2M660.83,4.1v2.3M660.83,189.2v-2.3M660.83,197.3v1M660.83,247.5v-1M666.52,4.1v2.3M666.52,189.2v-2.3M666.52,197.3v1M666.52,247.5v-1M672.22,4.1v2.3M672.22,189.2v-2.3M672.22,197.3v1M672.22,247.5v-1M677.91,4.1v2.3M677.91,189.2v-2.3M677.91,197.3v1M677.91,247.5v-1M683.6,4.1v4.5M683.6,189.2v-4.5M683.6,197.3v2.2M683.6,247.5v-2.2M399,189.2h5.5M683.6,189.2h-5.5M399,182.58h2.5M683.6,182.58h-2.5M399,175.96h2.5M683.6,175.96h-2.5M399,169.35h2.5M683.6,169.35h-2.5M399,162.73h5.5M683.6,162.73h-5.5M399,156.11h2.5M683.6,156.11h-2.5M399,149.5h2.5M683.6,149.5h-2.5M399,142.88h2.5M683.6,142.88h-2.5M399,136.26h5.5M683.6,136.26h-5.5M399,129.64h2.5M683.6,129.64h-2.5M399,123.02h2.5M683.6,123.02h-2.5M399,116.41h2.5M683.6,116.41h-2.5M399,109.79h5.5M683.6,109.79h-5.5M399,103.17h2.5M683.6,103.17h-2.5M399,96.55h2.5M683.6,96.55h-2.5M399,89.94h2.5M683.6,89.94h-2.5M399,83.32h5.5M683.6,83.32h-5.5M399,76.7h2.5M683.6,76.7h-2.5M399,70.08h2.5M683.6,70.08h-2.5M399,63.47h2.5M683.6,63.47h-2.5M399,56.85h5.5M683.6,56.85h-5.5M399,50.23h2.5M683.6,50.23h-2.5M399,43.62h2.5M683.6,43.62h-2.5M399,37h2.5M683.6,37h-2.5M399,30.38h5.5M683.6,30.38h-5.5M399,23.76h2.5M683.6,23.76h-2.5M399,17.15h2.5M683.6,17.15h-2.5M399,10.53h2.5M683.6,10.53h-2.5M399,3.91h5.5M683.6,3.91h-5.5M399,247.5h3.5M683.6,247.5h-3.5M399,242.48h3.5M683.6,242.48h-3.5M399,237.46h3.5M683.6,237.46h-3.5M399,232.44h3.5M683.6,232.44h-3.5M399,227.42h3.5M683.6,227.42h-3.5M399,222.4h3.5M683.6,222.4h-3.5M399,217.38h3.5M683.6,217.38h-3.5M399,212.36h3.5M683.6,212.36h-3.5M399,207.34h3.5M683.6,207.34h-3.5M399,202.32h3.5M683.6,202.32h-3.5M399,197.3h3.5M683.6,197.3h-3.5" stroke="#111" stroke-width="1.1" fill="none"/>
<circle cx="401.85" cy="34.35" r="1.8"/>
<circle cx="407.54" cy="105.82" r="1.8"/>
<circle cx="413.23" cy="138.91" r="1.8"/>
<circle cx="418.92" cy="142.88" r="1.8"/>
<circle cx="424.61" cy="154.79" r="1.8"/>
<circle cx="430.31" cy="168.02" r="1.8"/>
<circle cx="436" cy="164.05" r="1.8"/>
<circle cx="441.69" cy="161.41" r="1.8"/>
<circle cx="447.38" cy="171.99" r="1.8"/>
<circle cx="453.07" cy="169.35" r="1.8"/>
<circle cx="458.77" cy="179.94" r="1.8"/>
<circle cx="464.46" cy="174.64" r="1.8"/>
<circle cx="470.15" cy="179.94" r="1.8"/>
<circle cx="475.84" cy="177.29" r="1.8"/>
<circle cx="481.53" cy="182.58" r="1.8"/>
<circle cx="487.23" cy="178.61" r="1.8"/>
<circle cx="492.92" cy="182.58" r="1.8"/>
<circle cx="498.61" cy="171.99" r="1.8"/>
<circle cx="504.3" cy="181.26" r="1.8"/>
<circle cx="509.99" cy="179.94" r="1.8"/>
<circle cx="515.69" cy="182.58" r="1.8"/>
<circle cx="521.38" cy="181.26" r="1.8"/>
<circle cx="527.07" cy="181.26" r="1.8"/>
<circle cx="532.76" cy="185.23" r="1.8"/>
<circle cx="538.45" cy="178.61" r="1.8"/>
<circle cx="544.15" cy="181.26" r="1.8"/>
<circle cx="549.84" cy="183.91" r="1.8"/>
<circle cx="555.53" cy="181.26" r="1.8"/>
<circle cx="561.22" cy="186.55" r="1.8"/>
<circle cx="566.91" cy="189.2" r="1.8"/>
<circle cx="572.61" cy="177.29" r="1.8"/>
<circle cx="578.3" cy="185.23" r="1.8"/>
<circle cx="583.99" cy="183.91" r="1.8"/>
<circle cx="589.68" cy="182.58" r="1.8"/>
<circle cx="595.37" cy="179.94" r="1.8"/>
<circle cx="601.07" cy="183.91" r="1.8"/>
<circle cx="606.76" cy="185.23" r="1.8"/>
<circle cx="612.45" cy="177.29" r="1.8"/>
<circle cx="618.14" cy="179.94" r="1.8"/>
<circle cx="623.83" cy="177.29" r="1.8"/>
<circle cx="629.53" cy="186.55" r="1.8"/>
<circle cx="635.22" cy="181.26" r="1.8"/>
<circle cx="640.91" cy="178.61" r="1.8"/>
<circle cx="646.6" cy="178.61" r="1.8"/>
<circle cx="652.29" cy="179.94" r="1.8"/>
<circle cx="657.99" cy="171.99" r="1.8"/>
<circle cx="663.68" cy="179.94" r="1.8"/>
<circle cx="669.37" cy="161.41" r="1.8"/>
<circle cx="675.06" cy="154.79" r="1.8"/>
<circle cx="680.75" cy="170.67" r="1.8"/>
<path d="M401.85,18.67V48.65M400.75,18.67h2.2M400.75,48.65h2.2M407.54,93.94V116.3M406.44,93.94h2.2M406.44,116.3h2.2M413.23,129.35V147.03M412.13,129.35h2.2M412.13,147.03h2.2M418.92,133.65V150.67M417.82,133.65h2.2M417.82,150.67h2.2M424.61,146.63V161.49M423.51,146.63h2.2M423.51,161.49h2.2M430.31,161.3V173.26M429.21,161.3h2.2M429.21,173.26h2.2M436,156.86V169.77M434.9,156.86h2.2M434.9,169.77h2.2M441.69,153.92V167.42M440.59,153.92h2.2M440.59,167.42h2.2M447.38,165.78V176.7M446.28,165.78h2.2M446.28,176.7h2.2M453.07,162.78V174.42M451.97,162.78h2.2M451.97,174.42h2.2M458.77,174.95V183.35M457.67,174.95h2.2M457.67,183.35h2.2M464.46,168.8V178.96M463.36,168.8h2.2M463.36,178.96h2.2M470.15,174.95V183.35M469.05,174.95h2.2M469.05,183.35h2.2M475.84,171.85V181.18M474.74,171.85h2.2M474.74,181.18h2.2M481.53,178.11V185.44M480.43,178.11h2.2M480.43,185.44h2.2M487.23,173.39V182.28M486.13,173.39h2.2M486.13,182.28h2.2M492.92,178.11V185.44M491.82,178.11h2.2M491.82,185.44h2.2M498.61,165.78V176.7M497.51,165.78h2.2M497.51,176.7h2.2M504.3,176.52V184.41M503.2,176.52h2.2M503.2,184.41h2.2M509.99,174.95V183.35M508.89,174.95h2.2M508.89,183.35h2.2M515.69,178.11V185.44M514.59,178.11h2.2M514.59,185.44h2.2M521.38,176.52V184.41M520.28,176.52h2.2M520.28,184.41h2.2M527.07,176.52V184.41M525.97,176.52h2.2M525.97,184.41h2.2M532.76,181.37V187.39M531.66,181.37h2.2M531.66,187.39h2.2M538.45,173.39V182.28M537.35,173.39h2.2M537.35,182.28h2.2M544.15,176.52V184.41M543.05,176.52h2.2M543.05,184.41h2.2M549.84,179.72V186.44M548.74,179.72h2.2M548.74,186.44h2.2M555.53,176.52V184.41M554.43,176.52h2.2M554.43,184.41h2.2M561.22,183.06V188.26M560.12,183.06h2.2M560.12,188.26h2.2M572.61,171.85V181.18M571.51,171.85h2.2M571.51,181.18h2.2M578.3,181.37V187.39M577.2,181.37h2.2M577.2,187.39h2.2M583.99,179.72V186.44M582.89,179.72h2.2M582.89,186.44h2.2M589.68,178.11V185.44M588.58,178.11h2.2M588.58,185.44h2.2M595.37,174.95V183.35M594.27,174.95h2.2M594.27,183.35h2.2M601.07,179.72V186.44M599.97,179.72h2.2M599.97,186.44h2.2M606.76,181.37V187.39M605.66,181.37h2.2M605.66,187.39h2.2M612.45,171.85V181.18M611.35,171.85h2.2M611.35,181.18h2.2M618.14,174.95V183.35M617.04,174.95h2.2M617.04,183.35h2.2M623.83,171.85V181.18M622.73,171.85h2.2M622.73,181.18h2.2M629.53,183.06V188.26M628.43,183.06h2.2M628.43,188.26h2.2M635.22,176.52V184.41M634.12,176.52h2.2M634.12,184.41h2.2M640.91,173.39V182.28M639.81,173.39h2.2M639.81,182.28h2.2M646.6,173.39V182.28M645.5,173.39h2.2M645.5,182.28h2.2M652.29,174.95V183.35M651.19,174.95h2.2M651.19,183.35h2.2M657.99,165.78V176.7M656.89,165.78h2.2M656.89,176.7h2.2M663.68,174.95V183.35M662.58,174.95h2.2M662.58,183.35h2.2M669.37,153.92V167.42M668.27,153.92h2.2M668.27,167.42h2.2M675.06,146.63V161.49M673.96,146.63h2.2M673.96,161.49h2.2M680.75,164.28V175.56M679.65,164.28h2.2M679.65,175.56h2.2" stroke="#000" stroke-width="0.85" fill="none"/>
<line x1="399" y1="222.4" x2="683.6" y2="222.4" stroke="#0000FF" stroke-width="2.1" stroke-dasharray="0 3.04" stroke-linecap="round"/>
<circle cx="401.85" cy="217.88" r="1.8"/>
<circle cx="407.54" cy="222.4" r="1.8"/>
<circle cx="413.23" cy="226.92" r="1.8"/>
<circle cx="418.92" cy="221.65" r="1.8"/>
<circle cx="424.61" cy="223.66" r="1.8"/>
<circle cx="430.31" cy="228.93" r="1.8"/>
<circle cx="436" cy="222.4" r="1.8"/>
<circle cx="441.69" cy="218.38" r="1.8"/>
<circle cx="447.38" cy="223.66" r="1.8"/>
<circle cx="453.07" cy="220.39" r="1.8"/>
<circle cx="458.77" cy="227.92" r="1.8"/>
<circle cx="464.46" cy="222.4" r="1.8"/>
<circle cx="470.15" cy="225.91" r="1.8"/>
<circle cx="475.84" cy="222.9" r="1.8"/>
<circle cx="481.53" cy="228.42" r="1.8"/>
<circle cx="487.23" cy="220.89" r="1.8"/>
<circle cx="492.92" cy="226.42" r="1.8"/>
<circle cx="498.61" cy="213.62" r="1.8"/>
<circle cx="504.3" cy="222.9" r="1.8"/>
<circle cx="509.99" cy="220.89" r="1.8"/>
<circle cx="515.69" cy="223.66" r="1.8"/>
<circle cx="521.38" cy="221.65" r="1.8"/>
<circle cx="527.07" cy="221.9" r="1.8"/>
<circle cx="532.76" cy="226.42" r="1.8"/>
<circle cx="538.45" cy="216.38" r="1.8"/>
<circle cx="544.15" cy="220.89" r="1.8"/>
<circle cx="549.84" cy="222.9" r="1.8"/>
<circle cx="555.53" cy="219.64" r="1.8"/>
<circle cx="561.22" cy="228.93" r="1.8"/>
<circle cx="566.91" cy="243.48" r="1.8"/>
<circle cx="572.61" cy="214.37" r="1.8"/>
<circle cx="578.3" cy="224.91" r="1.8"/>
<circle cx="583.99" cy="223.91" r="1.8"/>
<circle cx="589.68" cy="222.4" r="1.8"/>
<circle cx="595.37" cy="218.38" r="1.8"/>
<circle cx="601.07" cy="223.66" r="1.8"/>
<circle cx="606.76" cy="225.41" r="1.8"/>
<circle cx="612.45" cy="215.37" r="1.8"/>
<circle cx="618.14" cy="218.64" r="1.8"/>
<circle cx="623.83" cy="215.37" r="1.8"/>
<circle cx="629.53" cy="228.93" r="1.8"/>
<circle cx="635.22" cy="220.89" r="1.8"/>
<circle cx="640.91" cy="218.64" r="1.8"/>
<circle cx="646.6" cy="218.64" r="1.8"/>
<circle cx="652.29" cy="221.65" r="1.8"/>
<circle cx="657.99" cy="215.62" r="1.8"/>
<circle cx="663.68" cy="227.42" r="1.8"/>
<circle cx="669.37" cy="222.15" r="1.8"/>
<circle cx="675.06" cy="227.92" r="1.8"/>
<circle cx="680.75" cy="221.65" r="1.8"/>
<path d="M401.85,212.38V222.9M400.75,212.38h2.2M400.75,222.9h2.2M407.54,217.38V226.83M406.44,217.38h2.2M406.44,226.83h2.2M413.23,221.9V231.19M412.13,221.9h2.2M412.13,231.19h2.2M418.92,215.7V226.67M417.82,215.7h2.2M417.82,226.67h2.2M424.61,218.64V227.78M423.51,218.64h2.2M423.51,227.78h2.2M430.31,223.91V232.83M429.21,223.91h2.2M429.21,232.83h2.2M436,217.38V226.39M434.9,217.38h2.2M434.9,226.39h2.2M441.69,212.14V223.4M440.59,212.14h2.2M440.59,223.4h2.2M447.38,218.64V227.46M446.28,218.64h2.2M446.28,227.46h2.2M453.07,213.89V225.41M451.97,213.89h2.2M451.97,225.41h2.2M458.77,222.9V231.36M457.67,222.9h2.2M457.67,231.36h2.2M464.46,217.38V226.11M463.36,217.38h2.2M463.36,226.11h2.2M470.15,220.89V229.35M469.05,220.89h2.2M469.05,229.35h2.2M475.84,217.88V226.5M474.74,217.88h2.2M474.74,226.5h2.2M481.53,223.4V231.63M480.43,223.4h2.2M480.43,231.63h2.2M487.23,213.74V225.91M486.13,213.74h2.2M486.13,225.91h2.2M492.92,221.4V229.62M491.82,221.4h2.2M491.82,229.62h2.2M498.61,206.99V218.64M497.51,206.99h2.2M497.51,218.64h2.2M504.3,217.88V226.24M503.2,217.88h2.2M503.2,226.24h2.2M509.99,213.56V225.91M508.89,213.56h2.2M508.89,225.91h2.2M515.69,218.64V226.86M514.59,218.64h2.2M514.59,226.86h2.2M521.38,214.09V226.67M520.28,214.09h2.2M520.28,226.67h2.2M527.07,214.34V226.92M525.97,214.34h2.2M525.97,226.92h2.2M532.76,221.4V229.22M531.66,221.4h2.2M531.66,229.22h2.2M538.45,209.22V221.4M537.35,209.22h2.2M537.35,221.4h2.2M544.15,213.34V225.91M543.05,213.34h2.2M543.05,225.91h2.2M549.84,217.88V225.94M548.74,217.88h2.2M548.74,225.94h2.2M555.53,212.08V224.66M554.43,212.08h2.2M554.43,224.66h2.2M561.22,223.91V231.38M560.12,223.91h2.2M560.12,231.38h2.2M566.91,238.46V243.48M565.81,238.46h2.2M572.61,207.36V219.39M571.51,207.36h2.2M571.51,219.39h2.2M578.3,219.89V227.72M577.2,219.89h2.2M577.2,227.72h2.2M583.99,218.89V226.94M582.89,218.89h2.2M582.89,226.94h2.2M589.68,217.38V225.61M588.58,217.38h2.2M588.58,225.61h2.2M595.37,211.05V223.4M594.27,211.05h2.2M594.27,223.4h2.2M601.07,218.64V226.69M599.97,218.64h2.2M599.97,226.69h2.2M606.76,220.39V228.22M605.66,220.39h2.2M605.66,228.22h2.2M612.45,208.36V220.39M611.35,208.36h2.2M611.35,220.39h2.2M618.14,211.3V223.66M617.04,211.3h2.2M617.04,223.66h2.2M623.83,208.36V220.39M622.73,208.36h2.2M622.73,220.39h2.2M629.53,223.91V231.38M628.43,223.91h2.2M628.43,231.38h2.2M635.22,213.34V225.91M634.12,213.34h2.2M634.12,225.91h2.2M640.91,211.48V223.66M639.81,211.48h2.2M639.81,223.66h2.2M646.6,211.48V223.66M645.5,211.48h2.2M645.5,223.66h2.2M652.29,214.32V226.67M651.19,214.32h2.2M651.19,226.67h2.2M657.99,209V220.64M656.89,209h2.2M656.89,220.64h2.2M663.68,222.4V230.86M662.58,222.4h2.2M662.58,230.86h2.2M669.37,215.9V227.17M668.27,215.9h2.2M668.27,227.17h2.2M675.06,222.9V232.05M673.96,222.9h2.2M673.96,232.05h2.2M680.75,215.09V226.67M679.65,215.09h2.2M679.65,226.67h2.2" stroke="#000" stroke-width="0.85" fill="none"/>
<g font-size="11.8"><text x="393.6" y="193.2" text-anchor="end">0</text><text x="393.6" y="166.73" text-anchor="end">20</text><text x="393.6" y="140.26" text-anchor="end">40</text><text x="393.6" y="113.79" text-anchor="end">60</text><text x="393.6" y="87.32" text-anchor="end">80</text><text x="393.6" y="60.85" text-anchor="end">100</text><text x="393.6" y="34.38" text-anchor="end">120</text><text x="393.6" y="7.91" text-anchor="end">140</text><text x="393.6" y="211.34" text-anchor="end">3</text><text x="393.6" y="226.4" text-anchor="end">0</text><text x="393.6" y="241.46" text-anchor="end">-3</text><text x="399" y="258.5" text-anchor="middle">0</text><text x="427.46" y="258.5" text-anchor="middle">0.1</text><text x="455.92" y="258.5" text-anchor="middle">0.2</text><text x="484.38" y="258.5" text-anchor="middle">0.3</text><text x="512.84" y="258.5" text-anchor="middle">0.4</text><text x="541.3" y="258.5" text-anchor="middle">0.5</text><text x="569.76" y="258.5" text-anchor="middle">0.6</text><text x="598.22" y="258.5" text-anchor="middle">0.7</text><text x="626.68" y="258.5" text-anchor="middle">0.8</text><text x="655.14" y="258.5" text-anchor="middle">0.9</text><text x="683.6" y="258.5" text-anchor="middle">1</text></g>
<text transform="translate(371.4,134.0) rotate(-90)" font-size="11.7">Events / ( 0.02 )</text>
<text transform="translate(372.8,232.5) rotate(-90)" font-size="12.3">Pull</text>
<text x="422.7" y="37.3" font-size="16.4">(b)</text>
<path d="M569.3,18.3V29.3M567.3,18.3h4M567.3,29.3h4" stroke="#000" stroke-width="0.9"/>
<circle cx="569.3" cy="23.8" r="1.5"/>
<rect x="559.8" y="35.5" width="18.3" height="13" fill="#E98A6A" stroke="#DC6843" stroke-width="1"/>
<rect x="559.8" y="54" width="18.3" height="13" fill="#95B8D6" stroke="#6A97C2" stroke-width="1"/>
<rect x="559.8" y="72.5" width="18.3" height="13" fill="#3F5086" stroke="#394A80" stroke-width="1"/>
<text x="586.5" y="28" font-size="11.4">Data</text>
<text transform="translate(586.5,46.7) scale(0.95,1.17)" font-size="11.4">&#923;</text>
<path d="M588.5,36.1H592.5" stroke="#000" stroke-width="0.8"/>
<path d="M595.8,39.3H599.5" stroke="#000" stroke-width="0.8"/>
<text x="593.9" y="49.4" font-size="8.4" font-style="italic">c</text>
<path d="M604.4,43.4H614 M611.4,41 L614.2,43.4 L611.4,45.8" stroke="#000" stroke-width="0.95" fill="none"/>
<text x="618.1" y="46.7" font-size="10.9" font-style="italic">ne</text>
<path d="M619.3,39.5H623.1" stroke="#000" stroke-width="0.8"/>
<path d="M628.1,39.8H632.3" stroke="#000" stroke-width="0.8"/>
<text x="632" y="46.7" font-size="11.4" font-style="italic">&#957;</text>
<path d="M634.2,39.5H638.2" stroke="#000" stroke-width="0.8"/>
<text x="638.1" y="48.2" font-size="8.4" font-style="italic">e</text>
<text transform="translate(586.5,65.2) scale(0.95,1.17)" font-size="11.4">&#923;</text>
<path d="M588.5,54.6H592.5" stroke="#000" stroke-width="0.8"/>
<path d="M595.8,57.8H599.5" stroke="#000" stroke-width="0.8"/>
<text x="593.9" y="67.9" font-size="8.4" font-style="italic">c</text>
<path d="M604.4,61.9H614 M611.4,59.5 L614.2,61.9 L611.4,64.3" stroke="#000" stroke-width="0.95" fill="none"/>
<text transform="translate(617.9,65.2) scale(0.95,1.17)" font-size="11.4">&#923;</text>
<path d="M619.9,54.6H623.9" stroke="#000" stroke-width="0.8"/>
<text x="625.3" y="65.2" font-size="10.9" font-style="italic">e</text>
<path d="M629.9,58.3H634.4" stroke="#000" stroke-width="0.8"/>
<text x="634.7" y="65.2" font-size="11.4" font-style="italic">&#957;</text>
<path d="M636.9,58H640.9" stroke="#000" stroke-width="0.8"/>
<text x="640.9" y="66.7" font-size="8.4" font-style="italic">e</text>
<text x="586.5" y="83.3" font-size="11.4">Other</text>
<text transform="translate(616.3,83.3) scale(0.95,1.17)" font-size="11.4">&#923;</text>
<path d="M618.3,72.7H622.3" stroke="#000" stroke-width="0.8"/>
<path d="M625.6,75.9H629.3" stroke="#000" stroke-width="0.8"/>
<text x="623.7" y="86" font-size="8.4" font-style="italic">c</text>
<text x="633.3" y="83.3" font-size="11.4">decays</text>
<text x="97.5" y="274.4" font-size="11.45">GNN output for</text>
<text x="174.6" y="274.4" font-size="11.2" font-style="italic">n</text>
<path d="M181.3,277.6L185.2,266.9" stroke="#000" stroke-width="0.75"/>
<text x="185.9" y="274.4" font-size="11.2">&#923;</text>
<text x="197.7" y="274.4" font-size="11.3">classification</text>
<text x="460.9" y="274.4" font-size="11.45">GNN output for</text>
<text x="538" y="274.4" font-size="11.2" font-style="italic">n</text>
<path d="M544.7,277.6L548.6,266.9" stroke="#000" stroke-width="0.75"/>
<text x="549.3" y="274.4" font-size="11.2">&#923;</text>
<text x="561.1" y="274.4" font-size="11.3">classification</text>
<path d="M538.8,267.9H542.6" stroke="#000" stroke-width="0.8"/>
<path d="M551.7,265.5H555" stroke="#000" stroke-width="0.8"/>
</svg>
</body></html>
